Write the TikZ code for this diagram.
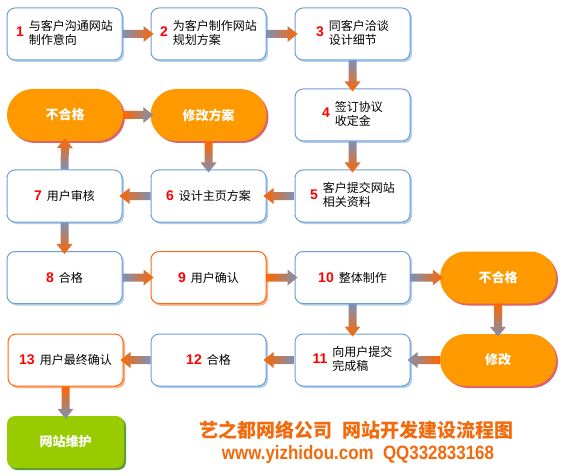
\documentclass[tikz,border=0pt]{standalone}
\usepackage{fontspec}
\usetikzlibrary{calc,shadows}
\newfontfamily\cjk{Noto Sans CJK SC}
\newfontfamily\numfont{Liberation Sans}
\definecolor{boxblue}{HTML}{6F9FD8}
\definecolor{boxshade}{HTML}{B3CDEB}
\definecolor{boxorange}{HTML}{FF6A10}
\definecolor{orangeshade}{HTML}{FFB080}
\definecolor{pillfill}{HTML}{FF9900}
\definecolor{pillshade}{HTML}{D9646E}
\definecolor{okgreen}{HTML}{99CC00}
\definecolor{greenshade}{HTML}{5E9A3A}
\definecolor{numred}{HTML}{FF0000}
\definecolor{flowgrey}{HTML}{7A92B8}
\definecolor{floworange}{HTML}{FF6600}
\definecolor{titleorange}{HTML}{F26A0C}
\newcommand{\stepno}[1]{{\numfont\bfseries\fontsize{14}{14}\selectfont\textcolor{numred}{#1}}\hspace{5pt}}
\newcommand{\twolines}[2]{\begin{tabular}{@{}l@{}}#1\\#2\end{tabular}}
% shaded block arrow: angle, from, to, start colour, end colour
\newcommand{\flow}[5]{%
  \path (#2) coordinate (fa) ($(#3)!-3pt!(#2)$) coordinate (fb);
  \path ($(fb)!10pt!(fa)$) coordinate (fh);
  \shade[top color=#4,bottom color=#5,shading angle=#1]
    ($(fa)!4pt!90:(fb)$) -- ($(fh)!4pt!90:(fb)$) -- ($(fh)!8pt!90:(fb)$) -- (fb)
    -- ($(fh)!8pt!-90:(fb)$) -- ($(fh)!4pt!-90:(fb)$) -- ($(fa)!4pt!-90:(fb)$) -- cycle;}

\begin{document}
\begin{tikzpicture}[x=1pt,y=1pt,
  box/.style={draw=boxblue,line width=1pt,fill=white,rounded corners=8pt,
    minimum width=115pt,minimum height=52pt,inner sep=0pt,
    font=\cjk\fontsize{12}{13}\selectfont,
    drop shadow={shadow xshift=2pt,shadow yshift=-2pt,fill=boxshade,opacity=1}},
  obox/.style={box,draw=boxorange,
    drop shadow={shadow xshift=2pt,shadow yshift=-2pt,fill=orangeshade,opacity=1}},
  pill/.style={fill=pillfill,rounded corners=26pt,minimum width=116pt,
    minimum height=52pt,inner sep=0pt,text=white,
    font=\cjk\bfseries\fontsize{13}{13}\selectfont,
    drop shadow={shadow xshift=2pt,shadow yshift=-2pt,fill=pillshade,opacity=1}},
  endbox/.style={fill=okgreen,rounded corners=8pt,minimum width=117pt,
    minimum height=52pt,inner sep=0pt,text=white,
    font=\cjk\bfseries\fontsize{13}{13}\selectfont,
    drop shadow={shadow xshift=2pt,shadow yshift=-2pt,fill=greenshade,opacity=1}}]
  \useasboundingbox[fill=white] (0,0) rectangle (565,-476);
  % steps
  \node[box] (b1) at (64.5,-34) {\stepno{1}\twolines{与客户沟通网站}{制作意向}};
  \node[box] (b2) at (208.5,-34) {\stepno{2}\twolines{为客户制作网站}{规划方案}};
  \node[box] (b3) at (352.5,-34) {\stepno{3}\twolines{同客户洽谈}{设计细节}};
  \node[pill] (ng1) at (65,-115) {不合格};
  \node[pill] (fix1) at (208.5,-115) {修改方案};
  \node[box] (b4) at (352.5,-115) {\stepno{4}\twolines{签订协议}{收定金}};
  \node[box] (b7) at (64.5,-196) {\stepno{7}用户审核};
  \node[box] (b6) at (208.5,-196) {\stepno{6}设计主页方案};
  \node[box] (b5) at (352.5,-196) {\stepno{5}\twolines{客户提交网站}{相关资料}};
  \node[box] (b8) at (64.5,-277.5) {\stepno{8}合格};
  \node[obox] (b9) at (208.5,-277.5) {\stepno{9}用户确认};
  \node[box] (b10) at (352.5,-277.5) {\stepno{10}整体制作};
  \node[pill] (ng2) at (498,-277.5) {不合格};
  \node[obox] (b13) at (65.5,-360) {\stepno{13}用户最终确认};
  \node[box] (b12) at (208.5,-360) {\stepno{12}合格};
  \node[box] (b11) at (352.5,-360) {\stepno{11}\twolines{向用户提交}{完成稿}};
  \node[pill] (fix2) at (498,-360) {修改};
  \node[endbox] (done) at (65.5,-442) {网站维护};
  % arrows
  \flow{90}{b1.east}{b2.west}{flowgrey}{floworange}
  \flow{90}{b2.east}{b3.west}{flowgrey}{floworange}
  \flow{0}{b3.south}{b4.north}{flowgrey}{floworange}
  \flow{0}{b4.south}{b5.north}{flowgrey}{floworange}
  \flow{270}{b5.west}{b6.east}{flowgrey}{floworange}
  \flow{270}{b6.west}{b7.east}{flowgrey}{floworange}
  \flow{0}{fix1.south}{b6.north}{floworange}{flowgrey}
  \flow{180}{b7.north}{ng1.south}{flowgrey}{floworange}
  \flow{90}{ng1.east}{fix1.west}{floworange}{flowgrey}
  \flow{0}{b7.south}{b8.north}{flowgrey}{floworange}
  \flow{90}{b8.east}{b9.west}{flowgrey}{floworange}
  \flow{90}{b9.east}{b10.west}{floworange}{flowgrey}
  \flow{90}{b10.east}{ng2.west}{flowgrey}{floworange}
  \flow{0}{ng2.south}{fix2.north}{floworange}{flowgrey}
  \flow{0}{b10.south}{b11.north}{flowgrey}{floworange}
  \flow{270}{fix2.west}{b11.east}{floworange}{flowgrey}
  \flow{270}{b11.west}{b12.east}{flowgrey}{floworange}
  \flow{270}{b12.west}{b13.east}{flowgrey}{floworange}
  \flow{0}{b13.south}{done.north}{floworange}{flowgrey}
  % title
  \node[text=titleorange,font=\cjk\bfseries\fontsize{19}{19}\selectfont] (title) at (356.5,-430) {艺之都网络公司\hspace{10pt}网站开发建设流程图};
  \node[text=titleorange,inner sep=0pt] (web) at (358,-455) {\resizebox{272pt}{14pt}{\numfont\bfseries www.yizhidou.com\ \ QQ332833168}};
\end{tikzpicture}
\end{document}
